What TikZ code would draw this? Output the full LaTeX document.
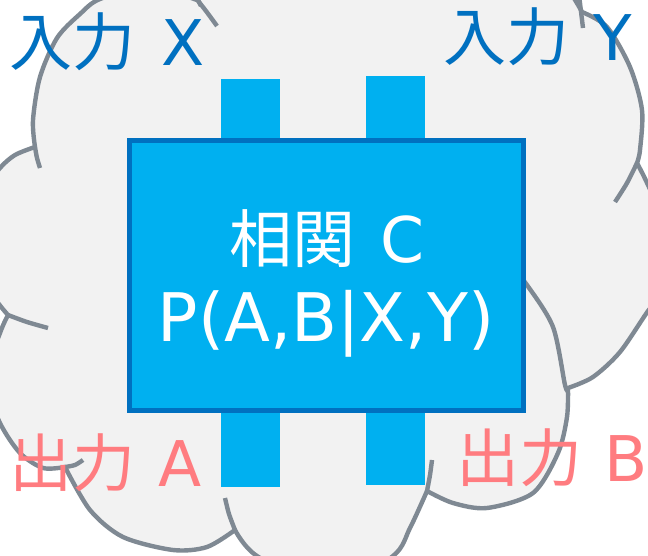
\documentclass[tikz,border=0pt]{standalone}
\usepackage{fontspec}
\setmainfont{DejaVu Sans}
\newfontfamily\cjk{Noto Sans CJK JP}
\definecolor{cloudfill}{HTML}{F2F2F2}
\definecolor{cloudline}{HTML}{7F8993}
\definecolor{boxfill}{HTML}{00B0F0}
\definecolor{boxline}{HTML}{0070C0}
\definecolor{inblue}{HTML}{0070C0}
\definecolor{outred}{HTML}{FF7C80}
\tikzset{
  cloudedge/.style={fill=cloudfill, draw=cloudline, line width=4.4pt, line join=round},
  cloudtick/.style={draw=cloudline, line width=4.4pt},
  portbox/.style={fill=boxfill, draw=none, inner sep=0pt, minimum width=59pt},
  mainbox/.style={fill=boxfill, draw=boxline, line width=4.5pt, inner sep=0pt, minimum width=394pt, minimum height=270pt},
  inlabel/.style={text=inblue, inner sep=0pt, anchor=base west, font=\fontsize{63}{70}\selectfont},
  outlabel/.style={text=outred, inner sep=0pt, anchor=base west, font=\fontsize{63}{70}\selectfont},
  boxtext/.style={text=white, inner sep=0pt, anchor=base west, font=\fontsize{63}{70}\selectfont}
}
\begin{document}
\begin{tikzpicture}[x=1pt,y=-1pt]
\useasboundingbox (0,0) rectangle (648,556);
\fill[white] (0,0) rectangle (648,556);
\clip (0,0) rectangle (648,556);
% cloud
\path[cloudedge]
  plot[smooth] coordinates {(35,147) (33,120) (40,77) (57,38) (80,14) (100,-1) (148,-13) (197,0)}
  -- plot[smooth] coordinates {(197,0) (260,-60) (390,-85) (530,-50) (582,12)}
  -- plot[smooth] coordinates {(582,12) (607,27) (630,67) (642,110) (640,150) (637,163)}
  -- plot[smooth] coordinates {(637,163) (648,185) (672,240) (665,290) (648,311) (620,352) (593,377) (568,388)}
  -- plot[smooth] coordinates {(568,388) (567,417) (558,453) (533,493) (487,508) (453,503) (427,491)}
  -- plot[smooth] coordinates {(427,491) (410,528) (393,556) (330,592) (257,556) (235,530)}
  -- plot[smooth] coordinates {(235,530) (207,547) (173,550) (123,537) (90,510) (65,467)}
  -- plot[smooth] coordinates {(65,467) (43,468) (20,453) (0,423) (-15,380) (0,333) (8,315)}
  -- plot[smooth] coordinates {(8,315) (-10,290) (-25,240) (-15,190) (0,168) (15,155) (35,147)}
  -- cycle;
% inner arcs of the cloud
\draw[cloudtick] plot[smooth] coordinates {(195,-3) (206,11) (217,26)};
\draw[cloudtick] (195,-6) -- (201,6);
\draw[cloudtick] (579,-5) -- (583,28);
\draw[cloudtick] plot[smooth] coordinates {(637,163) (627,183) (615,202)};
\draw[cloudtick] plot[smooth] coordinates {(512,268) (527,285) (553,327) (565,385) (568,390)};
\draw[cloudtick] plot[smooth] coordinates {(427,491) (430,475) (432,460)};
\draw[cloudtick] plot[smooth] coordinates {(235,530) (229,514) (225,498)};
\draw[cloudtick] plot[smooth] coordinates {(65,467) (75,465) (83,460)};
\draw[cloudtick] plot[smooth] coordinates {(8,315) (27,322) (48,328)};
\draw[cloudtick] plot[smooth] coordinates {(35,147) (37,158) (40,168)};
% ports
\node[portbox, minimum height=71pt] (inX) at (250.5,114.5) {};
\node[portbox, minimum height=74pt] (inY) at (395.5,113) {};
\node[portbox, minimum height=87pt] (outA) at (250.5,443.5) {};
\node[portbox, minimum height=85pt] (outB) at (395.5,442.5) {};
% main box
\node[mainbox] (C) at (326.5,275.5) {};
\node[boxtext] (ctitle) at (229.5,262) {{\cjk 相関}\hspace{25pt}C};
\node[text=white, inner sep=0pt, anchor=base, font=\fontsize{67}{72}\selectfont] (cprob) at (326,341) {P(A,B|X,Y)};
% labels
\node[inlabel] (lx) at (9.5,66) {{\cjk 入力}\hspace{26pt}X};
\node[inlabel] (ly) at (443.5,61) {{\cjk 入力}\hspace{24pt}Y};
\node[outlabel] (la) at (9.5,486) {{\cjk 出力}\hspace{23pt}A};
\node[outlabel] (lb) at (456.5,481) {{\cjk 出力}\hspace{22pt}B};
\end{tikzpicture}
\end{document}
